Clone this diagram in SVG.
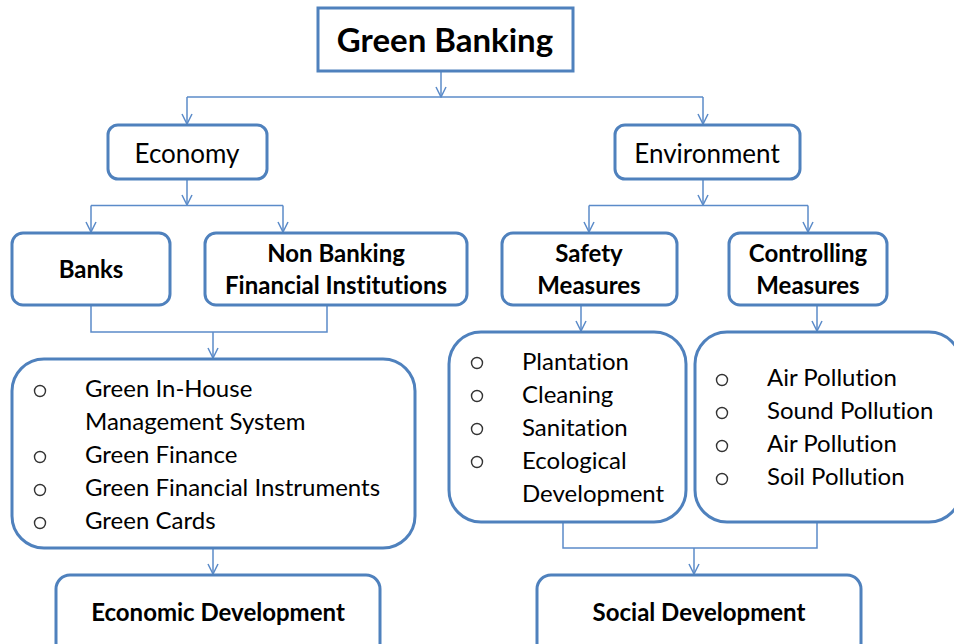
<svg xmlns="http://www.w3.org/2000/svg" width="954" height="644" viewBox="0 0 954 644">
  <defs>
    <marker id="arrow" viewBox="0 0 12 12" refX="11" refY="6" markerWidth="12" markerHeight="12" markerUnits="userSpaceOnUse" orient="auto">
      <path d="M1,1 L11,6 L1,11" fill="none" stroke="#5B8BC9" stroke-width="1.5"/>
    </marker>
    <style>
      .box { fill: #ffffff; stroke: #4F81BD; stroke-width: 3; }
      .link { fill: none; stroke: #5B8BC9; stroke-width: 1.5; }
      .txt { font-family: Lato, "Liberation Sans", sans-serif; fill: #000000; font-variant-ligatures: none; }
      .bold { font-weight: bold; font-size: 24px; text-anchor: middle; }
      .plain { font-size: 26px; text-anchor: middle; }
      .item { font-size: 24px; }
      .dot { fill: none; stroke: #333333; stroke-width: 1.4; }
    </style>
  </defs>

  <rect width="954" height="644" fill="#ffffff"/>

  <!-- connectors -->
  <g id="connectors">
    <path class="link" d="M441,71 V97" marker-end="url(#arrow)"/>
    <path class="link" d="M187,97 H703"/>
    <path class="link" d="M187,97 V124" marker-end="url(#arrow)"/>
    <path class="link" d="M703,97 V124" marker-end="url(#arrow)"/>

    <path class="link" d="M187,179 V205" marker-end="url(#arrow)"/>
    <path class="link" d="M91,205.5 H283"/>
    <path class="link" d="M91,205.5 V232" marker-end="url(#arrow)"/>
    <path class="link" d="M283,205.5 V232" marker-end="url(#arrow)"/>

    <path class="link" d="M703,179 V205" marker-end="url(#arrow)"/>
    <path class="link" d="M589,205.5 H808"/>
    <path class="link" d="M589,205.5 V232" marker-end="url(#arrow)"/>
    <path class="link" d="M808,205.5 V232" marker-end="url(#arrow)"/>

    <path class="link" d="M91,305 V332 H327 V305"/>
    <path class="link" d="M213,332 V358" marker-end="url(#arrow)"/>
    <path class="link" d="M213,548 V574" marker-end="url(#arrow)"/>

    <path class="link" d="M581,305 V331" marker-end="url(#arrow)"/>
    <path class="link" d="M817,305 V331" marker-end="url(#arrow)"/>

    <path class="link" d="M563,522 V548 H817 V522"/>
    <path class="link" d="M694,548 V574" marker-end="url(#arrow)"/>
  </g>

  <!-- root -->
  <g id="green-banking">
    <rect class="box" x="318" y="8" width="255" height="63"/>
    <text class="txt" x="445" y="52" font-size="33" font-weight="bold" text-anchor="middle">Green Banking</text>
  </g>

  <!-- second level -->
  <g id="economy">
    <rect class="box" x="108" y="125" width="159" height="54" rx="10"/>
    <text class="txt plain" x="187" y="163">Economy</text>
  </g>
  <g id="environment">
    <rect class="box" x="615" y="125" width="185" height="54" rx="10"/>
    <text class="txt plain" x="707" y="163">Environment</text>
  </g>

  <!-- third level -->
  <g id="banks">
    <rect class="box" x="12" y="233" width="158" height="72" rx="11"/>
    <text class="txt bold" x="91" y="278">Banks</text>
  </g>
  <g id="nbfi">
    <rect class="box" x="205" y="233" width="262" height="72" rx="11"/>
    <text class="txt bold" x="336" y="262">Non Banking</text>
    <text class="txt bold" x="336" y="294">Financial Institutions</text>
  </g>
  <g id="safety-measures">
    <rect class="box" x="502" y="233" width="175" height="72" rx="11"/>
    <text class="txt bold" x="589" y="262">Safety</text>
    <text class="txt bold" x="589" y="294">Measures</text>
  </g>
  <g id="controlling-measures">
    <rect class="box" x="729" y="233" width="158" height="72" rx="11"/>
    <text class="txt bold" x="808" y="262">Controlling</text>
    <text class="txt bold" x="808" y="294">Measures</text>
  </g>

  <!-- lists -->
  <g id="economy-list">
    <rect class="box" x="12" y="359" width="403" height="189" rx="32"/>
    <circle class="dot" cx="40" cy="391" r="5.5"/>
    <circle class="dot" cx="40" cy="457" r="5.5"/>
    <circle class="dot" cx="40" cy="490" r="5.5"/>
    <circle class="dot" cx="40" cy="523" r="5.5"/>
    <text class="txt item" x="85" y="397">Green In-House</text>
    <text class="txt item" x="85" y="430">Management System</text>
    <text class="txt item" x="85" y="463">Green Finance</text>
    <text class="txt item" x="85" y="496">Green Financial Instruments</text>
    <text class="txt item" x="85" y="529">Green Cards</text>
  </g>
  <g id="safety-list">
    <rect class="box" x="449" y="332" width="237" height="190" rx="32"/>
    <circle class="dot" cx="477" cy="363" r="5.5"/>
    <circle class="dot" cx="477" cy="396" r="5.5"/>
    <circle class="dot" cx="477" cy="429" r="5.5"/>
    <circle class="dot" cx="477" cy="462" r="5.5"/>
    <text class="txt item" x="522" y="370">Plantation</text>
    <text class="txt item" x="522" y="403">Cleaning</text>
    <text class="txt item" x="522" y="436">Sanitation</text>
    <text class="txt item" x="522" y="469">Ecological</text>
    <text class="txt item" x="522" y="502">Development</text>
  </g>
  <g id="controlling-list">
    <rect class="box" x="695" y="332" width="266" height="190" rx="32"/>
    <circle class="dot" cx="722" cy="380" r="5.5"/>
    <circle class="dot" cx="722" cy="413" r="5.5"/>
    <circle class="dot" cx="722" cy="446" r="5.5"/>
    <circle class="dot" cx="722" cy="479" r="5.5"/>
    <text class="txt item" x="767" y="386">Air Pollution</text>
    <text class="txt item" x="767" y="419">Sound Pollution</text>
    <text class="txt item" x="767" y="452">Air Pollution</text>
    <text class="txt item" x="767" y="485">Soil Pollution</text>
  </g>

  <!-- outcomes -->
  <g id="economic-development">
    <rect class="box" x="56" y="575" width="324" height="90" rx="14"/>
    <text class="txt bold" x="218" y="621">Economic Development</text>
  </g>
  <g id="social-development">
    <rect class="box" x="537" y="575" width="324" height="90" rx="14"/>
    <text class="txt bold" x="699" y="621">Social Development</text>
  </g>
</svg>
